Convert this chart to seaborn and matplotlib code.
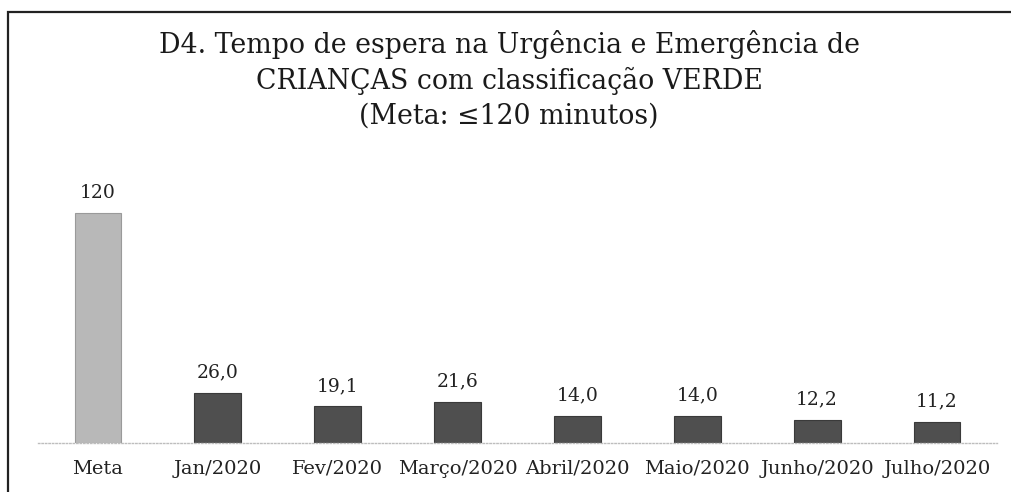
import matplotlib
matplotlib.use("Agg")
import matplotlib.pyplot as plt
import seaborn as sns
import pandas as pd
from matplotlib.patches import Rectangle

categories = ["Meta", "Jan/2020", "Fev/2020", "Março/2020", "Abril/2020",
              "Maio/2020", "Junho/2020", "Julho/2020"]
values = [120, 26.0, 19.1, 21.6, 14.0, 14.0, 12.2, 11.2]
labels = ["120", "26,0", "19,1", "21,6", "14,0", "14,0", "12,2", "11,2"]
kind = ["meta"] + ["real"] * 7

df = pd.DataFrame({"cat": categories, "val": values, "kind": kind})

sns.set_theme(style="white")
plt.rcParams["font.family"] = ["DejaVu Serif", "DejaVu Sans"]

fig = plt.figure(figsize=(10.12, 4.92), dpi=100)
ax = fig.add_axes([38/1012, 49/492, (997-38)/1012, 268/492])

sns.barplot(data=df, x="cat", y="val", hue="kind",
            palette={"meta": "#b8b8b8", "real": "#4f4f4f"},
            dodge=False, width=0.39, legend=False, ax=ax,
            edgecolor="#3a3a3a", linewidth=0.8)
for p, k in zip(ax.patches, kind):
    if k == "meta":
        p.set_edgecolor("#9a9a9a")

for i, (v, t) in enumerate(zip(values, labels)):
    ax.text(i, v + 6, t, ha="center", va="bottom", fontsize=13.5, color="#222222")

ax.set_ylim(0, 140)
ax.set_xlim(-0.5, 7.5)
ax.set_xlabel("")
ax.set_ylabel("")
ax.set_yticks([])
for s in ["top", "right", "left"]:
    ax.spines[s].set_visible(False)
ax.spines["bottom"].set_color("#bdbdbd")
ax.spines["bottom"].set_linestyle((0, (1, 1.5)))
ax.spines["bottom"].set_linewidth(1.0)
ax.tick_params(axis="x", length=0, labelsize=14, colors="#222222", pad=12)

fig.text(0.503, 1 - 30/492, "D4. Tempo de espera na Urgência e Emergência de\n"
         "CRIANÇAS com classificação VERDE\n(Meta: ≤120 minutos)",
         ha="center", va="top", fontsize=19.3, color="#1a1a1a", linespacing=1.36)

frame = Rectangle((8/1012, -0.05), 1.1, (492-12)/492 + 0.05,
                  transform=fig.transFigure, fill=False, edgecolor="#222222",
                  linewidth=1.6, clip_on=False)
fig.patches.append(frame)

fig.savefig("out.png", dpi=100, facecolor="white")
